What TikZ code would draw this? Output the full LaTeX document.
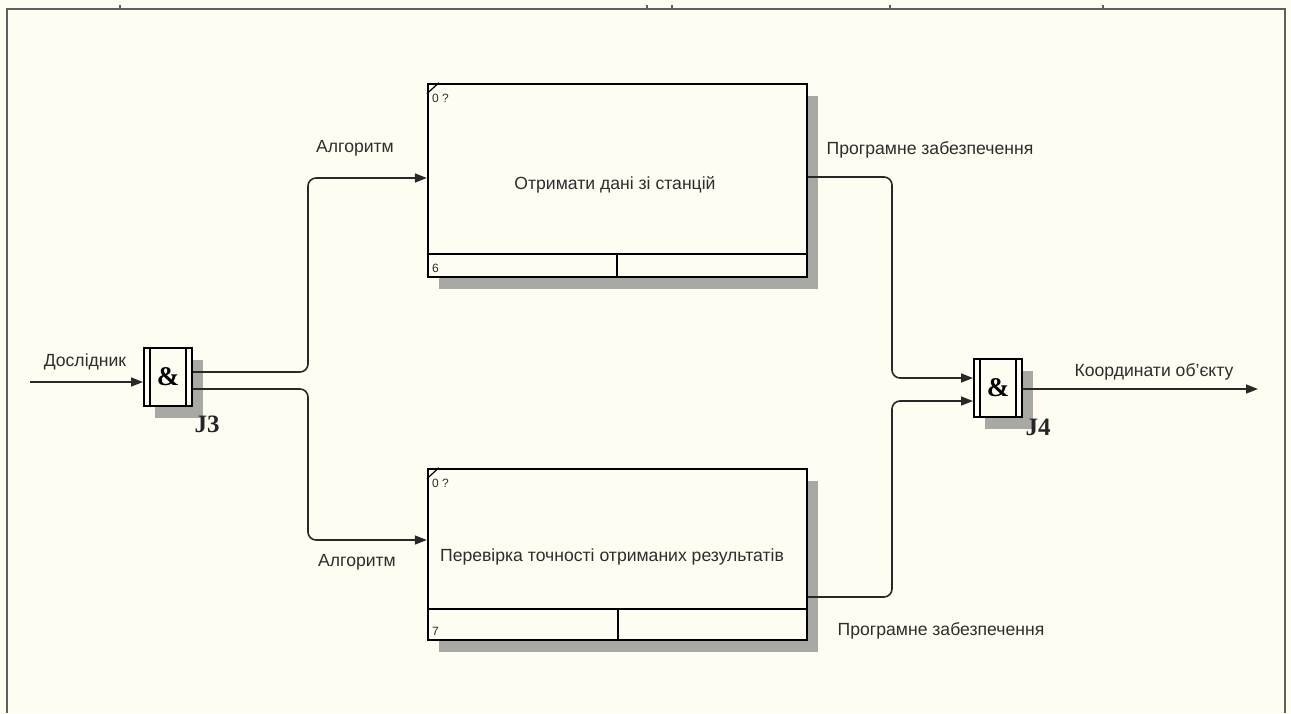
\documentclass[tikz,border=0pt]{standalone}
\usepackage{fontspec}
\setmainfont{Liberation Sans}
\newfontfamily\juncfont{Liberation Serif}
\usetikzlibrary{arrows.meta,calc,shadows}
\definecolor{paper}{RGB}{255,252,242}
\definecolor{wire}{RGB}{40,40,40}
\definecolor{framegray}{RGB}{95,95,95}
\definecolor{shade}{RGB}{168,168,164}
\definecolor{ink}{RGB}{45,45,45}

\tikzset{
  activity/.style={draw=black, line width=2.4pt, fill=paper, inner sep=0pt,
    general shadow={fill=shade, shadow xshift=11pt, shadow yshift=-12pt}},
  junc/.style={draw=black, line width=2pt, fill=paper, inner sep=0pt,
    minimum width=48pt, minimum height=58pt,
    font=\juncfont\bfseries\fontsize{27}{27}\selectfont,
    general shadow={fill=shade, shadow xshift=11pt, shadow yshift=-12pt}},
  jlabel/.style={font=\juncfont\bfseries\fontsize{25}{25}\selectfont, text=black!85},
  lbl/.style={font=\fontsize{17.6}{19}\selectfont, text=ink, inner sep=0pt},
  tiny/.style={font=\fontsize{12}{13}\selectfont, text=ink, inner sep=0pt, anchor=west},
  wire/.style={draw=wire, line width=1.6pt, rounded corners=8pt},
  flow/.style={wire, -{Triangle[length=12pt,width=9pt]}},
  strip/.style={draw=black, line width=2pt},
}

\begin{document}
\begin{tikzpicture}[x=1pt,y=-1pt]
\useasboundingbox (0,0) rectangle (1291,713);
\fill[paper] (0,0) rectangle (1291,713);

% sheet border, open at the bottom, with its ruler ticks
\draw[framegray, line width=2pt] (7,713) -- (7,9) -- (1285,9) -- (1285,713);
\foreach \tx in {120,647,672,890,1103}
  \draw[framegray, line width=1.2pt] (\tx,5) -- (\tx,9);

% activity boxes
\node[activity, minimum width=379pt, minimum height=193pt] (box1) at (617.5,180.5) {};
\node[activity, minimum width=379pt, minimum height=171pt] (box2) at (617.5,554.5) {};

% reference strips and corner marks
\draw[strip] ($(box1.south west)+(0,-24)$) -- ($(box1.south east)+(0,-24)$);
\draw[strip] ($(box1.south west)+(190,0)$) -- ++(0,-24);
\draw[strip] ($(box2.south west)+(0,-32)$) -- ($(box2.south east)+(0,-32)$);
\draw[strip] ($(box2.south west)+(191,0)$) -- ++(0,-32);
\draw[black, line width=1.2pt] ($(box1.north west)+(0,11)$) -- ($(box1.north west)+(12,0)$);
\draw[black, line width=1.2pt] ($(box2.north west)+(0,11)$) -- ($(box2.north west)+(12,0)$);

\node[tiny] (n1) at (432,98) {0 ?};
\node[tiny] (n2) at (432,483) {0 ?};
\node[tiny] (r1) at (432,268) {6};
\node[tiny] (r2) at (432,631) {7};

\node[lbl] (t1) at (615,185) {Отримати дані зі станцій};
\node[lbl] (t2) at (612,557) {Перевірка точності отриманих результатів};

% junctions
\node[junc] (j3) at (168,377) {\&};
\node[junc] (j4) at (998,388) {\&};
\foreach \j in {j3,j4}{
  \draw[black, line width=1.6pt] ($(\j.north west)+(7,0)$) -- ($(\j.south west)+(7,0)$);
  \draw[black, line width=1.6pt] ($(\j.north east)+(-7,0)$) -- ($(\j.south east)+(-7,0)$);
}
\node[jlabel] (l3) at (207,424) {J3};
\node[jlabel] (l4) at (1038,427) {J4};

% connectors
\coordinate (src) at (30,382);
\coordinate (dst) at (1258,389);
\draw[flow] (src) -- ($(j3.west)+(0,5)$);
\draw[flow] ($(j3.east)+(0,-5)$) -- (308,372) -- (308,178) -- ($(box1.west)+(0,-2.5)$);
\draw[flow] ($(j3.east)+(0,12)$) -- (308,389) -- (308,540) -- ($(box2.west)+(0,-14.5)$);
\draw[flow] ($(box1.east)+(0,-3.5)$) -- (892,177) -- (892,378) -- ($(j4.west)+(0,-10)$);
\draw[flow] ($(box2.east)+(0,42.5)$) -- (892,597) -- (892,401) -- ($(j4.west)+(0,13)$);
\draw[flow] ($(j4.east)+(0,1)$) -- (dst);

% arrow labels
\node[lbl] (a0) at (85,362) {Дослідник};
\node[lbl] (a1) at (355,148) {Алгоритм};
\node[lbl] (a2) at (357,562) {Алгоритм};
\node[lbl] (a3) at (930,150) {Програмне забезпечення};
\node[lbl] (a4) at (941,631) {Програмне забезпечення};
\node[lbl] (a5) at (1154,372) {Координати об'єкту};
\end{tikzpicture}
\end{document}
